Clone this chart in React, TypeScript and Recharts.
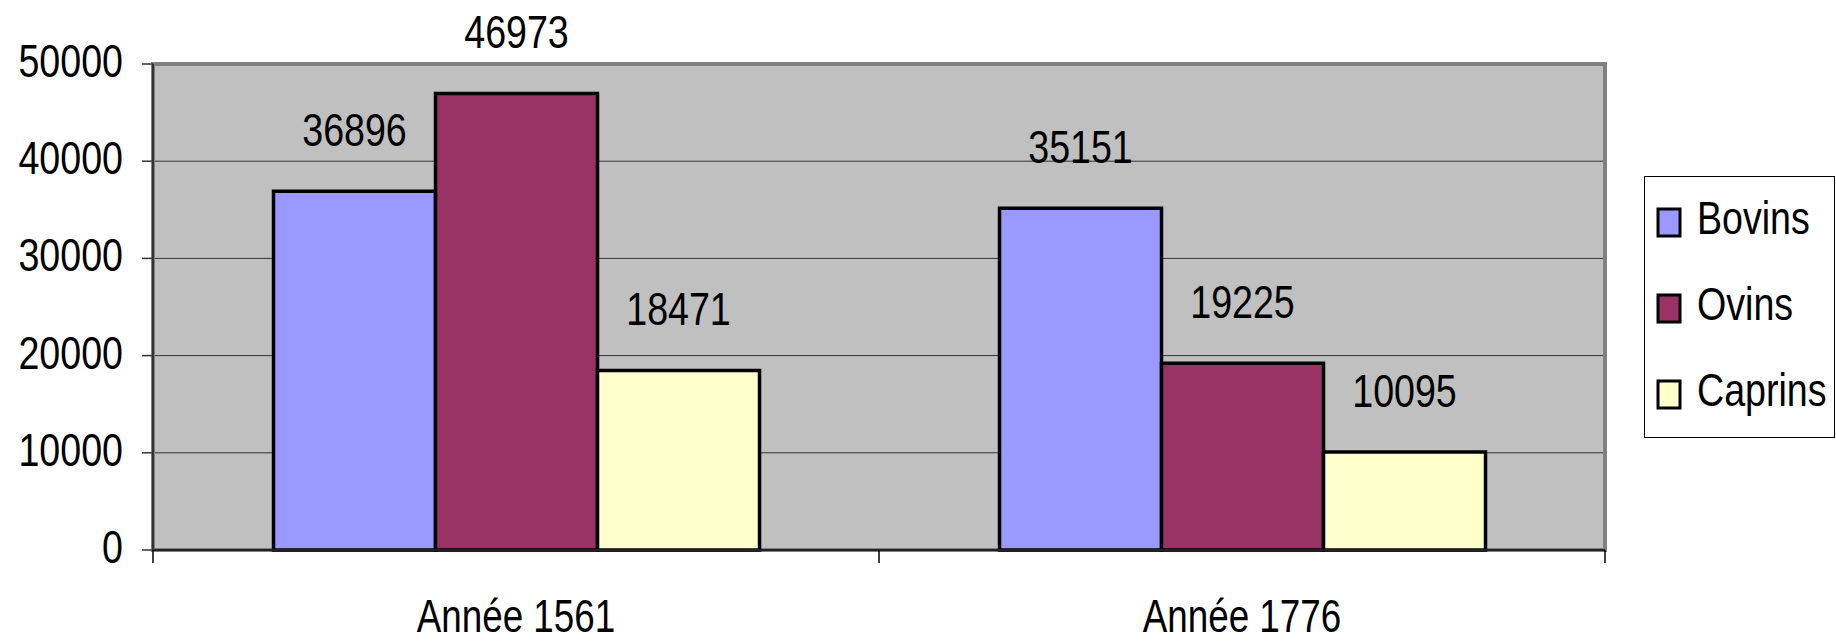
import React from 'react';
import { BarChart, Bar, XAxis, YAxis, CartesianGrid, Legend, LabelList, ReferenceArea } from 'recharts';

const categories = ['Année 1561', 'Année 1776'];
const bovins = [36896, 35151];
const ovins = [46973, 19225];
const caprins = [18471, 10095];
const yTicks = [0, 10000, 20000, 30000, 40000, 50000];

const seriesNames = ['Bovins', 'Ovins', 'Caprins'];
const seriesColors = ['#9999FF', '#993366', '#FFFFCC'];

const data = categories.map((c, i) => ({
  name: c,
  Bovins: bovins[i],
  Ovins: ovins[i],
  Caprins: caprins[i],
}));

const FONT = '"Liberation Sans", Arial, sans-serif';
const SQUISH = 0.8;

const YTick = (props: any) => {
  const { x, y, payload } = props;
  return (
    <text
      transform={`translate(${x},${y + 13}) scale(${SQUISH},1)`}
      textAnchor="end"
      fontFamily={FONT}
      fontSize={47}
      fill="#000"
    >
      {payload.value}
    </text>
  );
};

const XTick = (props: any) => {
  const { x, y, payload, index } = props;
  const off = payload && typeof payload.offset === 'number' ? payload.offset : 0;
  const axisY = y - 82;
  const last = index === categories.length - 1;
  return (
    <g>
      <line x1={x - off} x2={x - off} y1={axisY} y2={axisY + 13} stroke="#000" strokeWidth={1.5} />
      {last && <line x1={x + off} x2={x + off} y1={axisY} y2={axisY + 13} stroke="#000" strokeWidth={1.5} />}
      <text
        transform={`translate(${x},${y}) scale(${SQUISH},1)`}
        textAnchor="middle"
        fontFamily={FONT}
        fontSize={46}
        fill="#000"
      >
        {payload.value}
      </text>
    </g>
  );
};

const ValueLabel = (props: any) => {
  const { x, y, width, value } = props;
  return (
    <text
      transform={`translate(${x + width / 2},${y - 45}) scale(${SQUISH},1)`}
      textAnchor="middle"
      fontFamily={FONT}
      fontSize={47}
      fill="#000"
    >
      {value}
    </text>
  );
};

const LegendBox = (props: any) => {
  const payload = [...(props.payload || [])].sort(
    (a: any, b: any) => seriesNames.indexOf(a.value) - seriesNames.indexOf(b.value)
  );
  return (
    <svg width={192} height={262} style={{ display: 'block' }}>
      <rect x={0.5} y={0.5} width={190} height={261} fill="#fff" stroke="#000" strokeWidth={1} />
      {payload.map((entry: any, i: number) => {
        const cy = 46 + i * 86;
        return (
          <g key={entry.value}>
            <rect x={14} y={cy - 13} width={22} height={27} fill={entry.color} stroke="#000" strokeWidth={3} />
            <text
              transform={`translate(53,${cy + 12}) scale(${SQUISH},1)`}
              fontFamily={FONT}
              fontSize={47}
              fill="#000"
            >
              {entry.value}
            </text>
          </g>
        );
      })}
    </svg>
  );
};

export default function App() {
  return (
    <div style={{ position: 'absolute', left: 0, top: 0, width: 1836, height: 641, background: '#fff' }}>
      <BarChart
        width={1836}
        height={641}
        data={data}
        margin={{ top: 64, right: 231, bottom: 11, left: 13 }}
        barCategoryGap="16.6%"
        barGap={0}
      >
        <CartesianGrid vertical={false} fill="#C0C0C0" stroke="#333" strokeWidth={1} />
        <ReferenceArea y1={0} y2={50000} fill="none" stroke="#808080" strokeWidth={4} ifOverflow="visible" />
        <XAxis
          dataKey="name"
          height={80}
          tickLine={false}
          tickSize={13}
          tickMargin={69}
          axisLine={{ stroke: '#222', strokeWidth: 2 }}
          tick={<XTick />}
          interval={0}
        />
        <YAxis
          width={140}
          domain={[0, 50000]}
          ticks={yTicks}
          tickSize={11}
          tickMargin={19}
          tickLine={{ stroke: '#333', strokeWidth: 1.5 }}
          axisLine={{ stroke: '#333', strokeWidth: 2 }}
          tick={<YTick />}
          interval={0}
        />
        <Legend
          layout="vertical"
          align="center"
          verticalAlign="middle"
          itemSorter={null}
          content={<LegendBox />}
          wrapperStyle={{ left: 1644, top: 176, width: 192, height: 262 }}
        />
        {seriesNames.map((s, i) => (
          <Bar
            key={s}
            dataKey={s}
            name={s}
            fill={seriesColors[i]}
            stroke="#000"
            strokeWidth={3.5}
            isAnimationActive={false}
          >
            <LabelList dataKey={s} content={<ValueLabel />} />
          </Bar>
        ))}
      </BarChart>
    </div>
  );
}
